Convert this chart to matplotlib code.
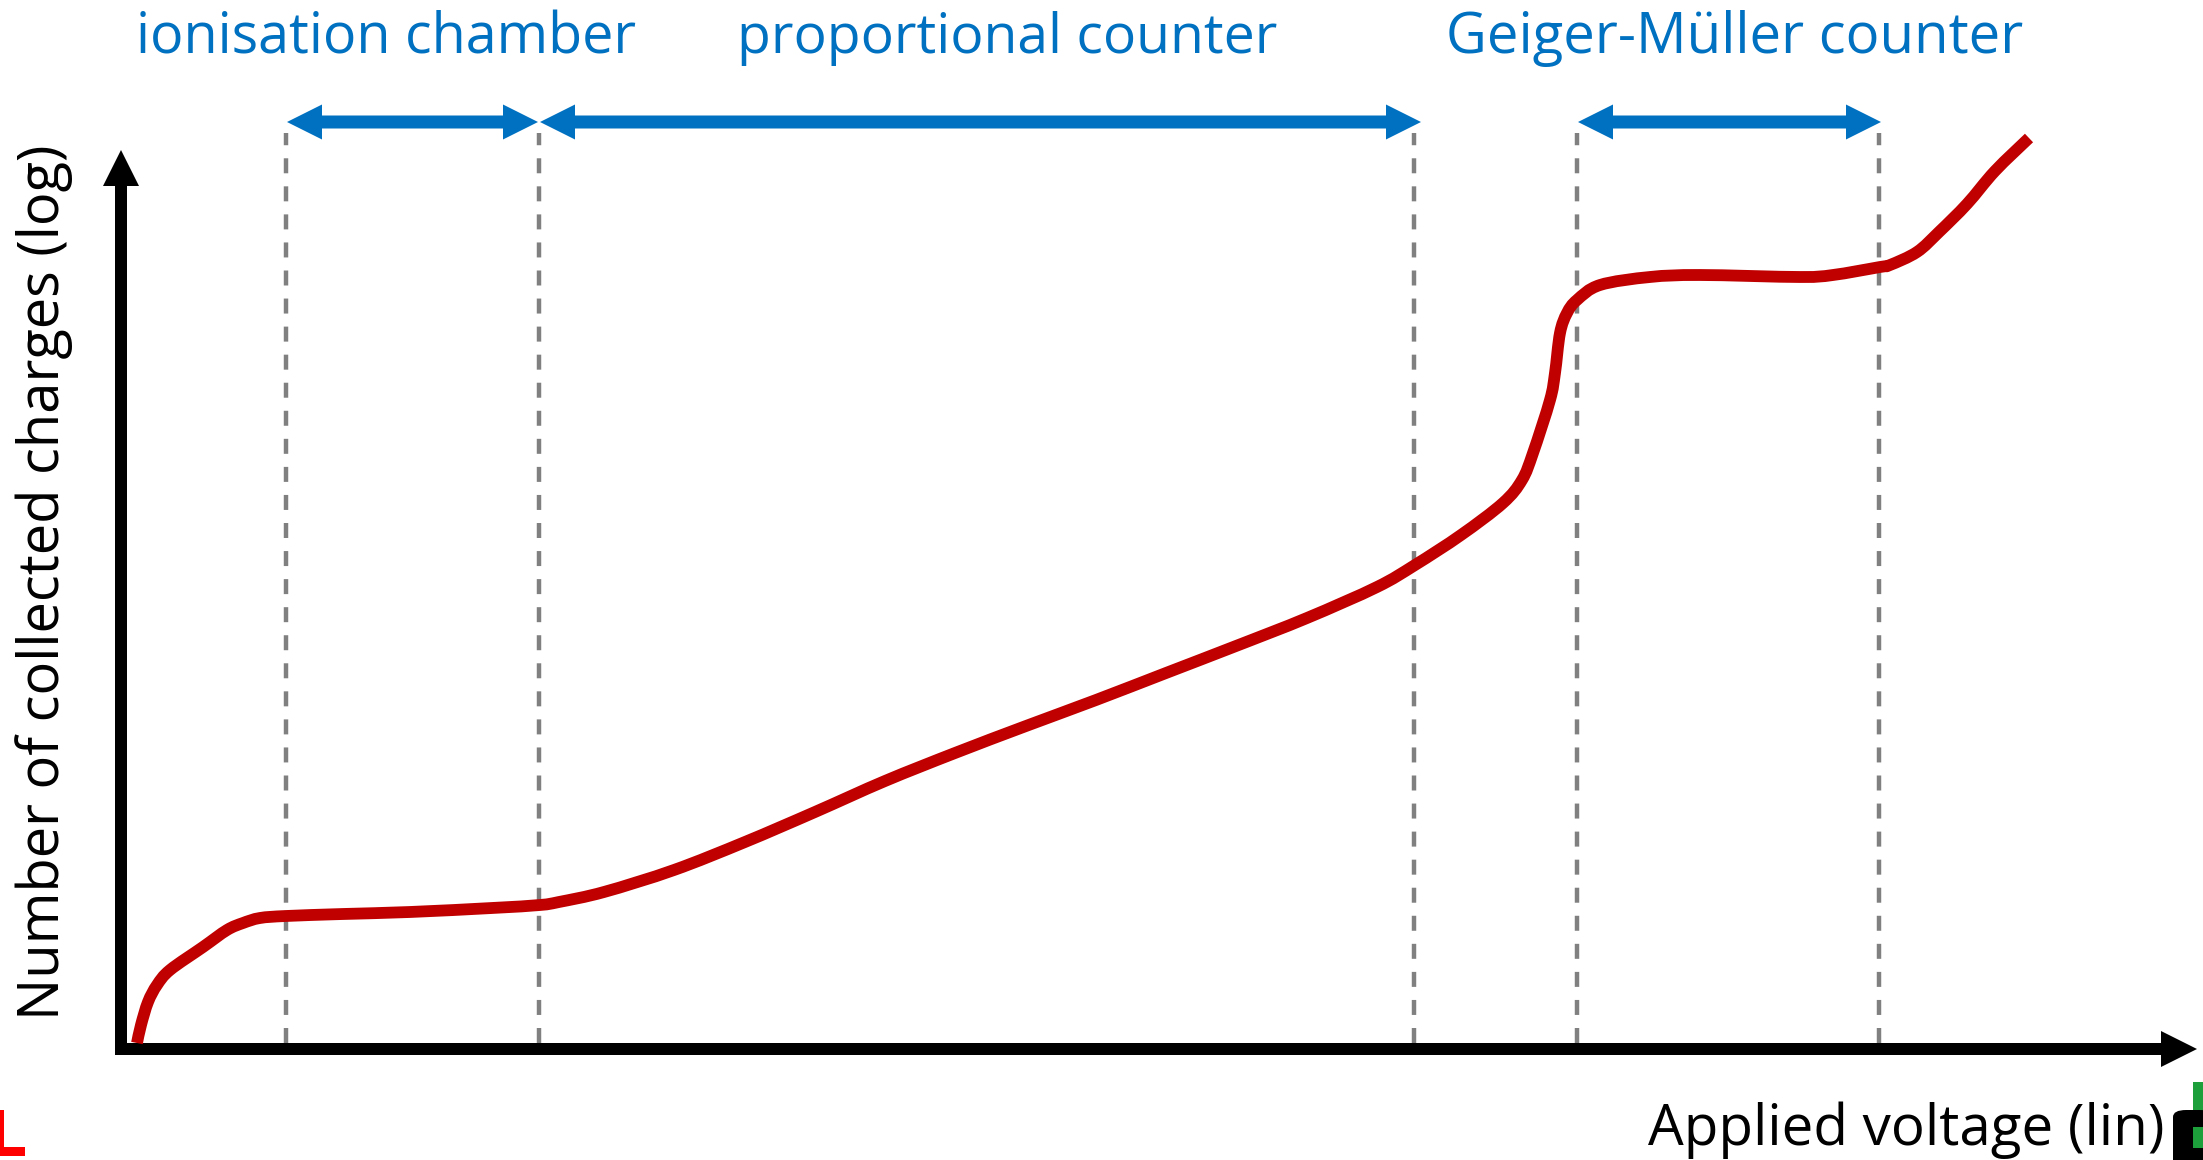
import numpy as np
import matplotlib
matplotlib.use('Agg')
import matplotlib.pyplot as plt
from matplotlib.patches import Rectangle, FancyBboxPatch, PathPatch
from matplotlib.path import Path

plt.rcParams['font.family'] = ['Open Sans', 'DejaVu Sans']
plt.rcParams['lines.scale_dashes'] = False

# curve: applied voltage (lin) vs number of collected charges (log), arbitrary units
voltage = [1.6, 2.0, 2.7, 3.6, 4.9, 8.2, 10.6, 12.2, 13.9, 16.5, 22.2, 28.9, 37.1, 41.9,
           43.8, 48.3, 55.3, 62.4, 69.4, 76.4, 83.4, 90.5, 97.5, 104.5, 111.5, 118.6,
           125.6, 129.4, 134.0, 138.2, 140.1, 141.2, 142.9, 143.4, 143.9, 144.6, 145.6,
           147.9, 152.9, 157.9, 167.9, 171.2, 175.9, 176.9, 179.6, 181.8, 184.6, 187.4, 190.8]
charges = [0.6, 2.4, 4.7, 6.4, 7.9, 10.2, 11.9, 12.6, 13.1, 13.3, 13.5, 13.7, 14.1, 14.4,
           14.7, 15.7, 17.9, 20.7, 23.7, 26.8, 29.6, 32.3, 34.9, 37.6, 40.3, 43.1,
           46.2, 48.4, 51.4, 54.6, 56.9, 59.6, 64.9, 67.6, 71.6, 73.6, 74.9,
           76.4, 77.2, 77.4, 77.2, 77.4, 78.2, 78.4, 79.7, 81.7, 84.5, 87.8, 91.1]

# region boundaries and labels
bounds = [16.5, 41.8, 129.3, 145.6, 175.8]
regions = [(16.6, 41.7), (41.9, 130.0), (145.7, 176.0)]
region_names = ['ionisation chamber', 'proportional counter', 'Geiger-Müller counter']
region_centers = [26.5, 88.6, 161.4]

xlabel = 'Applied voltage (lin)'
ylabel = 'Number of collected charges (log)'

BLUE = '#0070C0'
RED = '#C00000'
GRAY = '#808080'

W, H = 2203, 1160
fig = plt.figure(figsize=(W / 100, H / 100), dpi=100)
ax = fig.add_axes([0, 0, 1, 1])
ax.set_xlim(-12.1, 208.2)
ax.set_ylim(-11.1, 104.9)
ax.axis('off')

# dashed region boundaries
for b in bounds:
    ax.plot([b, b], [0.6, 91.6], color=GRAY, lw=3.2, dashes=(10.8, 9.4), zorder=1)

# axes arrows
ax.arrow(-0.5, 0, 208.1, 0, width=1.2, head_width=3.6, head_length=3.6,
         length_includes_head=True, fc='black', ec='none', zorder=2)
ax.arrow(0, -0.6, 0, 90.5, width=1.2, head_width=3.6, head_length=3.6,
         length_includes_head=True, fc='black', ec='none', zorder=2)

def double_arrow(a, b, y, w=1.3, hw=3.5, hl=3.5, color=BLUE):
    xs = [a, a + hl, a + hl, b - hl, b - hl, b, b - hl, b - hl, a + hl, a + hl]
    ys = [y, y + hw / 2, y + w / 2, y + w / 2, y + hw / 2, y, y - hw / 2, y - w / 2,
          y - w / 2, y - hw / 2]
    ax.fill(xs, ys, color=color, lw=0, zorder=2)

for a, b in regions:
    double_arrow(a, b, 92.7)

# smooth curve through the read points (Catmull-Rom as cubic Bezier)
pts = np.column_stack([voltage, charges])
verts = [pts[0]]
codes = [Path.MOVETO]
n = len(pts)
for i in range(n - 1):
    p0 = pts[max(i - 1, 0)]
    p1 = pts[i]
    p2 = pts[i + 1]
    p3 = pts[min(i + 2, n - 1)]
    verts += [p1 + (p2 - p0) / 6, p2 - (p3 - p1) / 6, p2]
    codes += [Path.CURVE4] * 3
ax.add_patch(PathPatch(Path(verts, codes), fc='none', ec=RED, lw=8.5,
                       joinstyle='round', capstyle='butt', zorder=3))

renderer = fig.canvas.get_renderer()

def fit(t, target, vertical=False):
    bb = t.get_window_extent(renderer)
    size = bb.height if vertical else bb.width
    t.set_fontsize(t.get_fontsize() * target / size)

widths = [499, 539, 576]
for name, c, w in zip(region_names, region_centers, widths):
    t = ax.text(c, 99.6, name, color=BLUE, fontsize=40, ha='center', va='baseline')
    fit(t, w)

t = ax.text(204.3, -9.6, xlabel, color='black', fontsize=40, ha='right', va='baseline')
fit(t, 516)
t = ax.text(-7.7, 46.7, ylabel, color='black', fontsize=40, ha='center', va='center',
            rotation=90)
fit(t, 874, vertical=True)

# leftover slide bits at the corners
def px_rect(x, y, w, h, color, rounded=False):
    box = (x / W, 1 - (y + h) / H)
    if rounded:
        p = FancyBboxPatch(box, w / W, h / H, boxstyle='round,pad=0,rounding_size=0.006',
                           transform=fig.transFigure, fc=color, ec='none')
    else:
        p = Rectangle(box, w / W, h / H, transform=fig.transFigure, fc=color, ec='none')
    fig.patches.append(p)

px_rect(0, 1110, 4, 46, '#FF0000')
px_rect(0, 1147, 25, 9, '#FF0000')
px_rect(2193, 1082, 12, 66, '#1DA03C')
px_rect(2173, 1110, 40, 60, 'black', rounded=True)
px_rect(2193, 1127, 12, 21, '#1DA03C')

fig.savefig('out.png', dpi=100)
